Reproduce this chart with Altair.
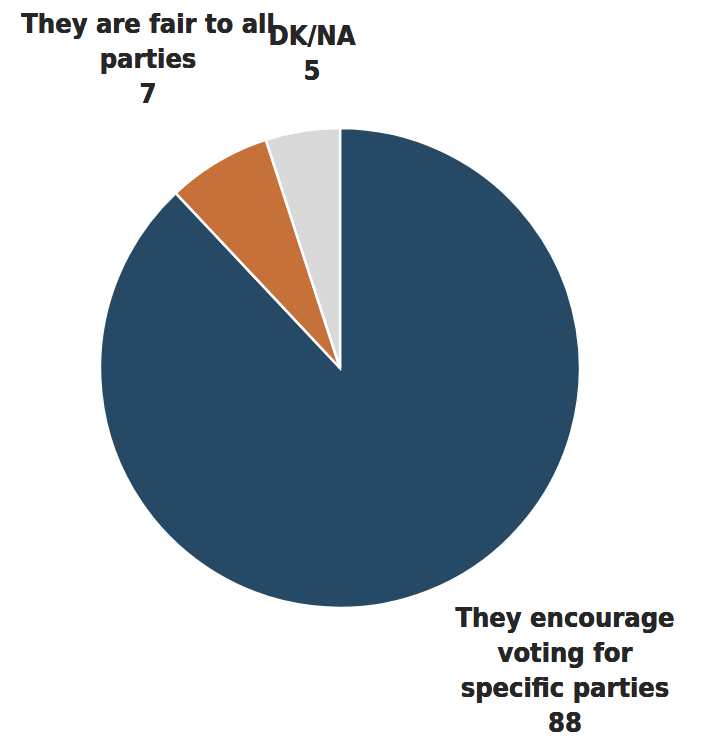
import altair as alt
import pandas as pd

categories = ["They encourage voting for specific parties", "They are fair to all parties", "DK/NA"]
values = [88, 7, 5]
colors = ["#264966", "#c6703a", "#d9d9d9"]
label_lines = [
    ["They encourage", "voting for", "specific parties", "88"],
    ["They are fair to all", "parties", "7"],
    ["DK/NA", "5"],
]

df = pd.DataFrame({"category": categories, "value": values, "order": [0, 1, 2]})

W, H = 692, 732
cx, cy = 332, 360

pie = alt.Chart(df).mark_arc(outerRadius=240, stroke="white", strokeWidth=2.5).encode(
    theta=alt.Theta("value:Q", stack=True),
    order=alt.Order("order:Q"),
    color=alt.Color("category:N", scale=alt.Scale(domain=categories, range=colors), legend=None),
    x=alt.value(cx),
    y=alt.value(cy),
)

FONT = "Liberation Sans Narrow, Arial Narrow, DejaVu Sans Condensed, sans-serif"
label_pos = [(557, 611), (140, 17), (304, 29)]
texts = []
for lines, (lx, ly) in zip(label_lines, label_pos):
    texts.append(
        alt.Chart(df).mark_text(
            text=lines, font=FONT, fontSize=27, fontWeight="bold", color="#262626",
            align="center", baseline="middle", lineHeight=35,
        ).encode(x=alt.value(lx), y=alt.value(ly))
    )

chart = alt.layer(pie, *texts).properties(
    width=W, height=H, autosize=alt.AutoSizeParams(type="none"), padding=0
).configure_view(stroke=None)

chart.save("out.html", embed_options={"renderer": "svg", "actions": False})
